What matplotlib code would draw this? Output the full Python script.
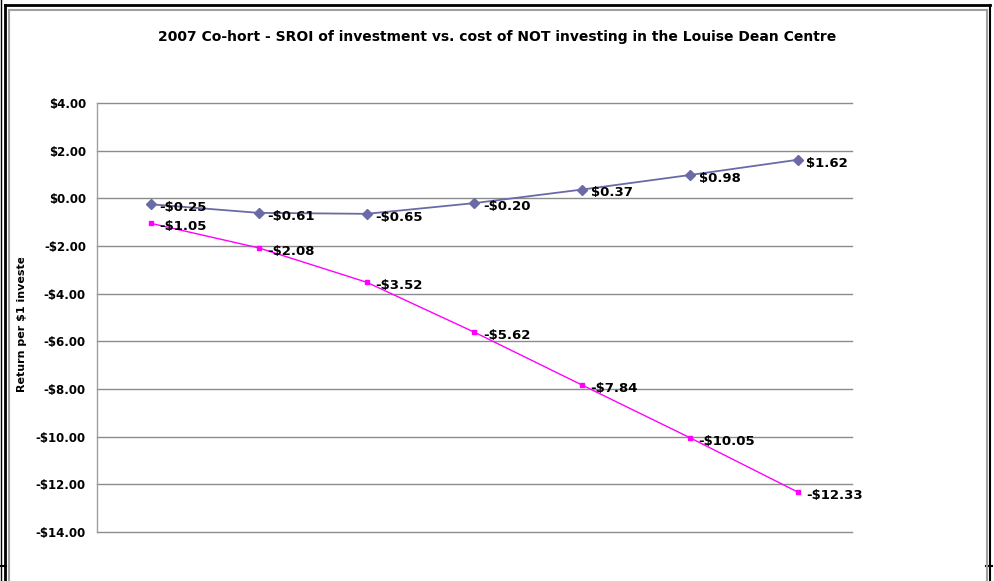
import matplotlib.pyplot as plt
from matplotlib.lines import Line2D
from matplotlib.transforms import Bbox, TransformedBbox

# Data
years = ['1', '2', '3', '4', '5', '6', '7']
sroi_invest = [-0.25, -0.61, -0.65, -0.20, 0.37, 0.98, 1.62]
cost_not_investing = [-1.05, -2.08, -3.52, -5.62, -7.84, -10.05, -12.33]
yticks = [4, 2, 0, -2, -4, -6, -8, -10, -12, -14]
ytick_labels = ['$4.00', '$2.00', '$0.00', '-$2.00', '-$4.00', '-$6.00',
                '-$8.00', '-$10.00', '-$12.00', '-$14.00']

W, H = 995, 581
fig = plt.figure(figsize=(W / 100, H / 100), dpi=100)
fig.patch.set_facecolor('white')

def px(x, y):
    return x / W, 1 - y / H

# frame lines (cut-off document border)
def fline(x0, y0, x1, y1, color, lw):
    (a, b), (c, d) = px(x0, y0), px(x1, y1)
    fig.add_artist(Line2D([a, c], [b, d], color=color, lw=lw, transform=fig.transFigure))

fline(1, 0, 1, H, 'black', 1.0)
fline(5, 5, 5, H, 'black', 2.0)
fline(5, 5, 990, 5, 'black', 2.0)
fline(990, 5, 990, H, 'black', 1.5)
fline(0, 566, 6, 566, 'black', 1.5)
fline(986, 566, 992, 566, 'black', 1.5)
fline(8.5, 9.5, 8.5, H, '#a0a0a0', 1.5)
fline(8.5, 9.5, 987, 9.5, '#a0a0a0', 1.5)
fline(987, 9.5, 987, H, '#a0a0a0', 1.5)

# plot area
left, top, right, bottom = 97, 103, 852, 532
ax = fig.add_axes([left / W, 1 - bottom / H, (right - left) / W, (bottom - top) / H])
x = list(range(len(years)))

ax.plot(x, sroi_invest, color='#6a6aa6', lw=1.3, marker='D', ms=5, zorder=3)
ax.plot(x, cost_not_investing, color='#ff00ff', lw=1.0, marker='s', ms=3.5, zorder=3)

def money(v):
    return ('-$%.2f' % -v) if v < 0 else ('$%.2f' % v)

for series in (sroi_invest, cost_not_investing):
    for xi, v in zip(x, series):
        ax.annotate(money(v), (xi, v), xytext=(6, -2.5), textcoords='offset points',
                    ha='left', va='center', fontsize=9.5, fontweight='bold', zorder=4)

ax.set_xlim(-0.5, len(years) - 0.5)
ax.set_ylim(-14, 4)
ax.set_yticks(yticks)
ax.set_yticklabels(ytick_labels, fontsize=8.5, fontweight='bold')
ax.set_xticks([])
ax.tick_params(axis='y', length=0, pad=8)
for yv in yticks:
    ax.axhline(yv, color='#8c8c8c', lw=1.0, zorder=1, clip_on=False)
for s in ['top', 'right', 'bottom']:
    ax.spines[s].set_visible(False)
ax.spines['left'].set_color('#a0a0a0')
ax.spines['left'].set_linewidth(1.0)

# title
tx, ty = px(497, 37)
fig.text(tx, ty, '2007 Co-hort - SROI of investment vs. cost of NOT investing in the Louise Dean Centre',
         ha='center', va='center', fontsize=10, fontweight='bold')

# y axis label, truncated like the original
lx, ly = px(22, 392)
t = fig.text(lx, ly, 'Return per $1 invested', rotation=90, ha='center', va='bottom',
             fontsize=8, fontweight='bold')
t.set_clip_box(TransformedBbox(Bbox([[0, 0], [0.1, 1 - 258 / H]]), fig.transFigure))
t.set_clip_on(True)

fig.savefig('out.png', dpi=100)
